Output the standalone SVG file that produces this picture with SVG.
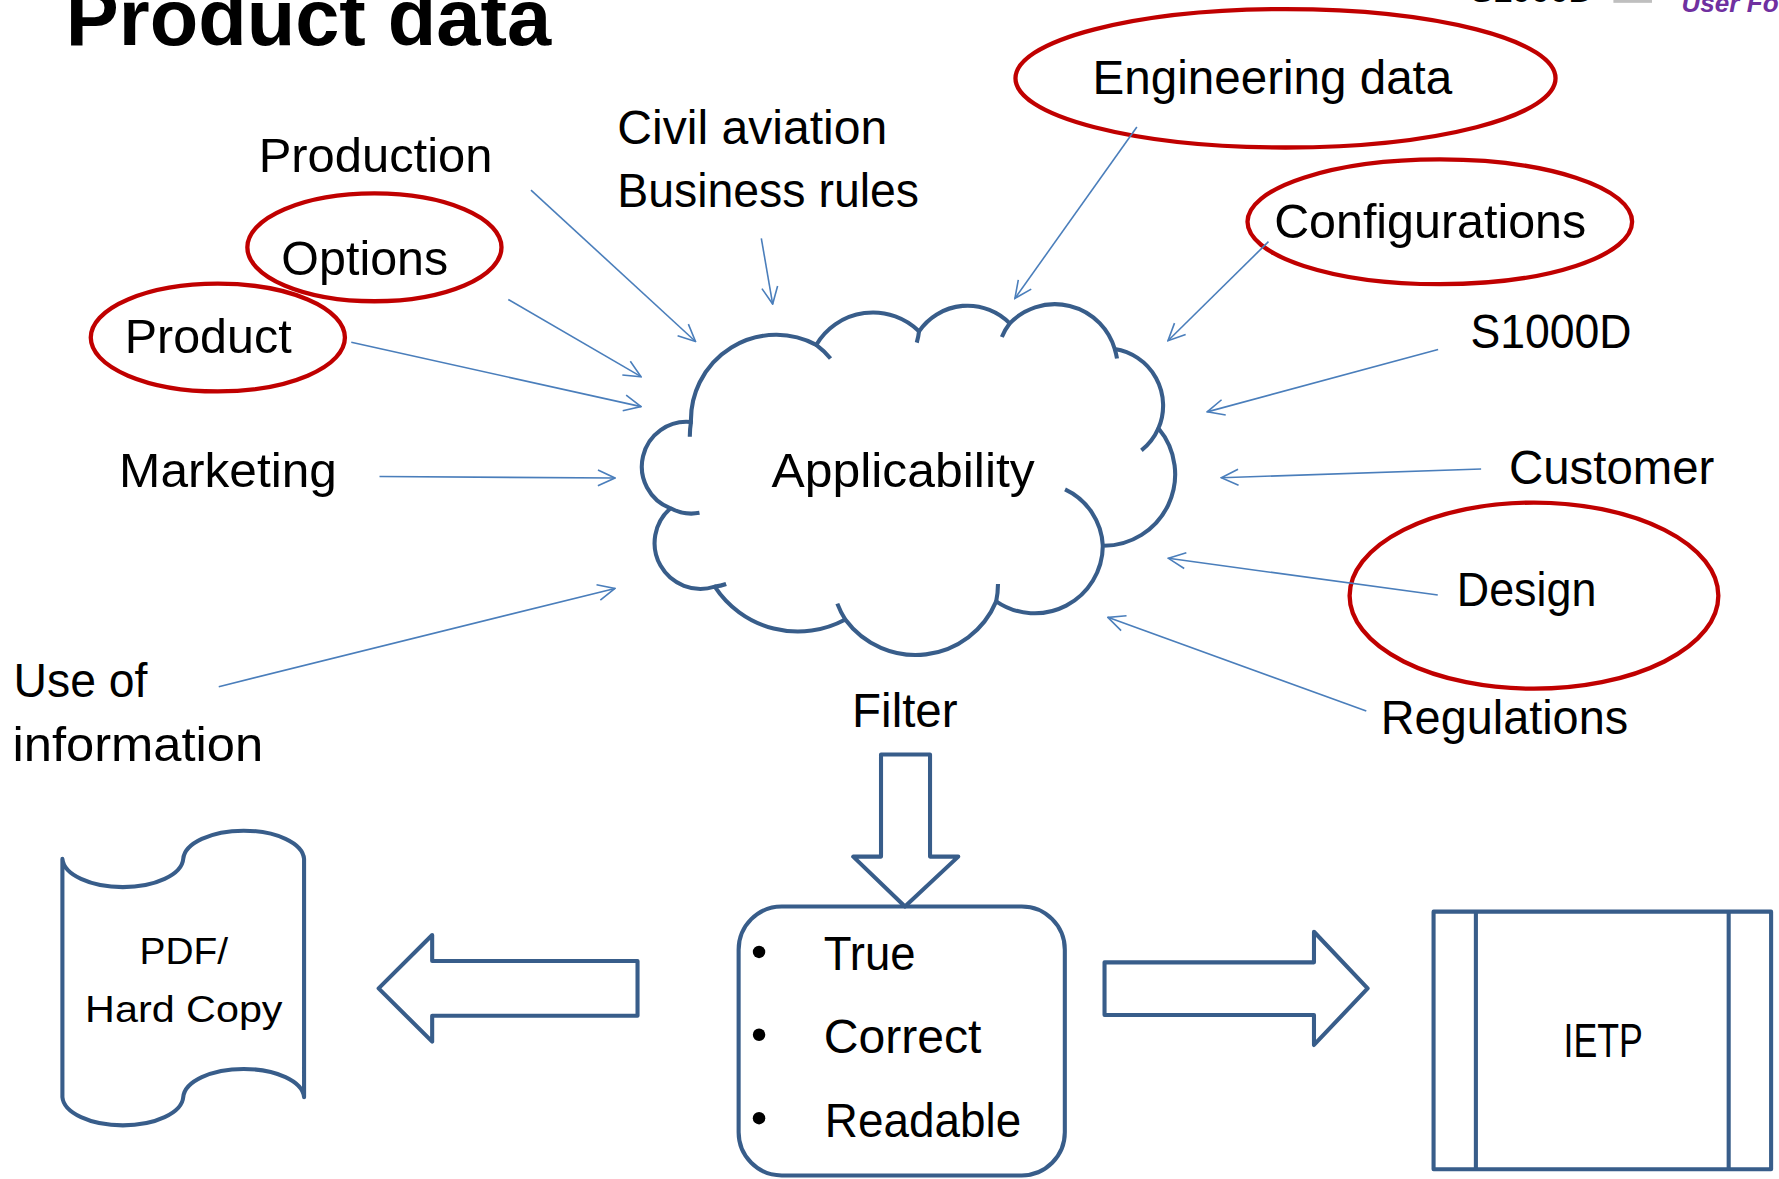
<svg xmlns="http://www.w3.org/2000/svg" width="1779" height="1179" viewBox="0 0 1779 1179">
<defs>
<style>
.lbl{font-family:"Liberation Sans",Arial,sans-serif;font-size:42px;fill:#000}
.sm{font-size:33px}
.title{font-family:"Liberation Sans",Arial,sans-serif;font-weight:bold;font-size:70px;fill:#000}
.oval{fill:none;stroke:#C00000;stroke-width:3.8}
.shape{fill:#fff;stroke:#385D8A;stroke-width:3.6;stroke-linejoin:round}
.hook{fill:none;stroke:#385D8A;stroke-width:3.6}
.conn{fill:none;stroke:#4A7EBB;stroke-width:1.4;marker-end:url(#ah)}
</style>
<marker id="ah" viewBox="0 0 20 20" refX="19" refY="10" markerWidth="20" markerHeight="20" markerUnits="userSpaceOnUse" orient="auto"><path d="M4,3 L19,10 L4,17" fill="none" stroke="#4A7EBB" stroke-width="1.4"/></marker>
</defs>
<rect width="1779" height="1179" fill="#fff"/>
<g transform="scale(1.1346)">
<g id="header">
<text class="title" x="58" y="40">Product data</text>
<text x="1296" y="1.8" font-family="Liberation Sans,Arial,sans-serif" font-weight="bold" font-size="30" fill="#000">S1000D</text>
<rect x="1422" y="-5" width="34" height="7.5" fill="#BFBFBF"/>
<text x="1482" y="11" font-family="Liberation Sans,Arial,sans-serif" font-weight="bold" font-style="italic" font-size="23" fill="#7030A0">User Fo</text>
</g>

<g id="cloud">
<path class="shape" d="M609,372 A75,75 0 0 1 719.4,304 A58,58 0 0 1 810,292 A52,52 0 0 1 890,285 A55,55 0 0 1 982.5,307.6 A50.5,50.5 0 0 1 1021,377.5 A63,63 0 0 1 972,481 A60,60 0 0 1 878,530 A77,77 0 0 1 745,546 A87.5,87.5 0 0 1 630,517 A40.4,40.4 0 0 1 591,448 A39.4,39.4 0 0 1 609,372 Z"/>
<path class="hook" d="M608,385 A75,75 0 0 1 609,372 M719.4,304 A75,75 0 0 1 732,316 M810,292 Q809.5,297 808,302 M883,297 A55,55 0 0 1 890,285 M982.5,307.6 A55,55 0 0 1 984.5,316 M1021,377.5 A50.5,50.5 0 0 1 1006,397 M938.7,431.3 A58,58 0 0 1 972,481 M879.6,514.7 A77,77 0 0 1 878,530 M745,546 A77,77 0 0 1 738,532 M640,514.7 A40.4,40.4 0 0 1 630,517 M616.5,452 A39.4,39.4 0 0 1 591,448"/>
<text class="lbl" x="680" y="429.5" textLength="232" lengthAdjust="spacingAndGlyphs">Applicability</text>
</g>

<g id="production"><text class="lbl" x="228" y="151.5" textLength="206" lengthAdjust="spacingAndGlyphs">Production</text></g>
<g id="civil-aviation">
<text class="lbl" x="544" y="127" textLength="238" lengthAdjust="spacingAndGlyphs">Civil aviation</text>
<text class="lbl" x="544" y="182.5" textLength="266" lengthAdjust="spacingAndGlyphs">Business rules</text>
</g>
<g id="options">
<ellipse class="oval" cx="330" cy="218" rx="112" ry="47.5"/>
<text class="lbl" x="248" y="242.5" textLength="147" lengthAdjust="spacingAndGlyphs">Options</text>
</g>
<g id="product">
<ellipse class="oval" cx="192" cy="297.5" rx="112" ry="47.5"/>
<text class="lbl" x="110" y="311" textLength="147" lengthAdjust="spacingAndGlyphs">Product</text>
</g>
<g id="marketing"><text class="lbl" x="105" y="429" textLength="192" lengthAdjust="spacingAndGlyphs">Marketing</text></g>
<g id="use-of-information">
<text class="lbl" x="12" y="614" textLength="118" lengthAdjust="spacingAndGlyphs">Use of</text>
<text class="lbl" x="11" y="671" textLength="221" lengthAdjust="spacingAndGlyphs">information</text>
</g>
<g id="engineering-data">
<ellipse class="oval" cx="1133" cy="69" rx="238" ry="61"/>
<text class="lbl" x="963" y="83" textLength="317" lengthAdjust="spacingAndGlyphs">Engineering data</text>
</g>
<g id="configurations">
<ellipse class="oval" cx="1269" cy="195.5" rx="169.5" ry="55"/>
<text class="lbl" x="1123" y="210" textLength="275" lengthAdjust="spacingAndGlyphs">Configurations</text>
</g>
<g id="s1000d"><text class="lbl" x="1296" y="307" textLength="142" lengthAdjust="spacingAndGlyphs">S1000D</text></g>
<g id="customer"><text class="lbl" x="1330" y="427" textLength="181" lengthAdjust="spacingAndGlyphs">Customer</text></g>
<g id="design">
<ellipse class="oval" cx="1352" cy="525" rx="162.5" ry="82"/>
<text class="lbl" x="1284" y="534" textLength="123" lengthAdjust="spacingAndGlyphs">Design</text>
</g>
<g id="regulations"><text class="lbl" x="1217" y="647" textLength="218" lengthAdjust="spacingAndGlyphs">Regulations</text></g>

<g id="filter-label"><text class="lbl" x="751" y="641" textLength="93" lengthAdjust="spacingAndGlyphs">Filter</text></g>

<g id="result-box">
<rect class="shape" x="651" y="799" width="287.5" height="237" rx="38" ry="38"/>
<circle cx="669" cy="839" r="5.5" fill="#000"/>
<circle cx="669" cy="912" r="5.5" fill="#000"/>
<circle cx="669" cy="985.5" r="5.5" fill="#000"/>
<text class="lbl" x="726" y="855" textLength="81" lengthAdjust="spacingAndGlyphs">True</text>
<text class="lbl" x="726" y="928" textLength="139" lengthAdjust="spacingAndGlyphs">Correct</text>
<text class="lbl" x="727" y="1002" textLength="173" lengthAdjust="spacingAndGlyphs">Readable</text>
</g>

<g id="pdf-hard-copy">
<path class="shape" d="M55,757 A53.3,26 0 0 0 161.5,757 A53.3,26 0 0 1 268,757 L268,967 A53.3,26 0 0 0 161.5,967 A53.3,26 0 0 1 55,967 Z"/>
<text class="lbl sm" x="123" y="850" textLength="78" lengthAdjust="spacingAndGlyphs">PDF/</text>
<text class="lbl sm" x="75" y="901" textLength="174" lengthAdjust="spacingAndGlyphs">Hard Copy</text>
</g>

<g id="ietp">
<rect class="shape" x="1263.5" y="803.5" width="297.5" height="227"/>
<path class="hook" d="M1300.8,803.5 V1030.5 M1523.6,803.5 V1030.5"/>
<text class="lbl" x="1378" y="932" font-size="37" textLength="70" lengthAdjust="spacingAndGlyphs">IETP</text>
</g>

<g id="connectors">
<path class="conn" d="M468,167.5 L613,301"/>
<path class="conn" d="M671,210 L681,268"/>
<path class="conn" d="M448,264 L565,332"/>
<path class="conn" d="M309.6,301.7 L565,358.4"/>
<path class="conn" d="M334.5,420 L542,421.3"/>
<path class="conn" d="M192.8,605.2 L542,518.6"/>
<path class="conn" d="M1002,112 L894.5,263"/>
<path class="conn" d="M1118,213 L1029.4,300.3"/>
<path class="conn" d="M1267.5,308 L1064,363"/>
<path class="conn" d="M1305.4,413.4 L1076.4,421.1"/>
<path class="conn" d="M1267.2,524.4 L1029.8,492.1"/>
<path class="conn" d="M1204.2,626.7 L976.4,544.1"/>
<polygon class="shape" points="776.5,665 819.7,665 819.7,755 844.6,755 797.6,799 752,755 776.5,755"/>
<polygon class="shape" points="561.9,847 380.9,847 380.9,824.1 333.7,871.1 380.9,918.1 380.9,895.2 561.9,895.2"/>
<polygon class="shape" points="973.5,848.2 1158.1,848.2 1158.1,821.2 1205.4,871.1 1158.1,921 1158.1,894.6 973.5,894.6"/>
</g>
</g>
</svg>
